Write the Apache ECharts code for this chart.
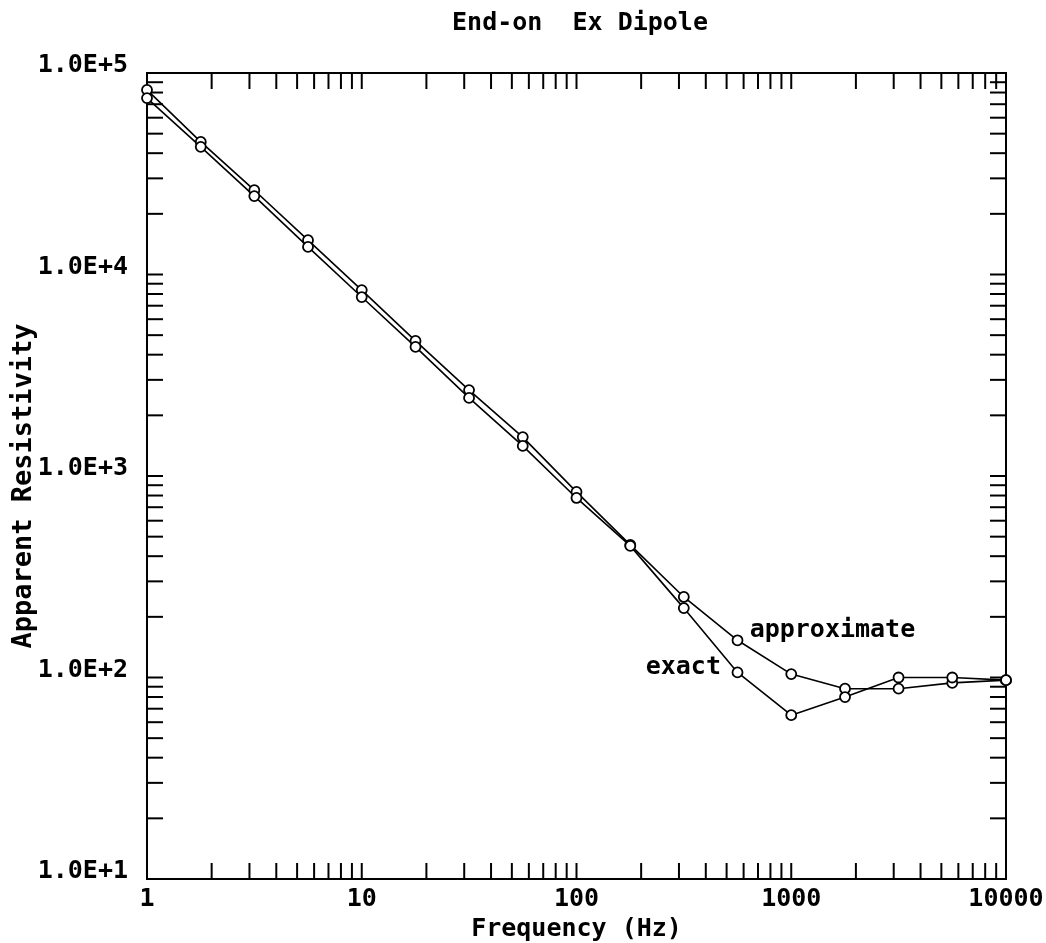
<!DOCTYPE html>
<html>
<head>
<meta charset="utf-8">
<script src="https://cdn.jsdelivr.net/npm/echarts@6/dist/echarts.min.js"></script>
<style>html,body{margin:0;padding:0;background:#fff}#c{width:1046px;height:943px}</style>
</head>
<body>
<div id="c"></div>
<script>
var frequencies = [1, 1.78, 3.16, 5.62, 10, 17.8, 31.6, 56.2, 100, 178, 316, 562, 1000, 1780, 3160, 5620, 10000];
var approximate = [82400, 45500, 26200, 14800, 8370, 4680, 2670, 1560, 834, 455, 251, 153, 104, 88, 88, 94, 97];
var exact = [75100, 43000, 24500, 13700, 7730, 4370, 2440, 1410, 778, 450, 221, 106, 65, 80, 100, 100, 97];
var xTickLabels = ['1', '10', '100', '1000', '10000'];
var yTickLabels = ['1.0E+1', '1.0E+2', '1.0E+3', '1.0E+4', '1.0E+5'];
var xTickValues = [];
[1, 10, 100, 1000].forEach(function (d) { for (var k = 2; k <= 10; k++) xTickValues.push(k * d); });
var yTickValues = [];
[10, 100, 1000, 10000].forEach(function (d) { for (var k = 2; k <= 10; k++) yTickValues.push(k * d); });

var FONT = '"DejaVu Sans Mono", monospace';
var TL = 16;

function pair(xs, ys) { return xs.map(function (x, i) { return [x, ys[i]]; }); }

var chart = echarts.init(document.getElementById('c'), null, { renderer: 'canvas' });
chart.setOption({
  animation: false,
  backgroundColor: '#fff',
  title: {
    text: 'End-on  Ex Dipole', left: 575, top: 6, textAlign: 'center',
    textStyle: { fontFamily: FONT, fontWeight: 'bold', fontSize: 25, color: '#000' }
  },
  grid: { left: 147, top: 73, right: 40, bottom: 64, containLabel: false, outerBoundsMode: 'none', show: true, borderColor: '#000', borderWidth: 2, backgroundColor: 'transparent' },
  xAxis: {
    type: 'log', logBase: 10, min: 1, max: 10000,
    name: 'Frequency (Hz)', nameLocation: 'middle', nameGap: 34,
    nameTextStyle: { fontFamily: FONT, fontWeight: 'bold', fontSize: 25, color: '#000' },
    axisLine: { show: false }, axisTick: { show: false }, splitLine: { show: false },
    axisLabel: {
      fontFamily: FONT, fontWeight: 'bold', fontSize: 25, color: '#000', margin: 8,
      formatter: function (v) { return xTickLabels[Math.round(Math.log10(v))]; }
    }
  },
  yAxis: {
    type: 'log', logBase: 10, min: 10, max: 100000,
    name: 'Apparent Resistivity', nameLocation: 'middle', nameGap: 110, nameRotate: 90,
    nameMoveOverlap: false,
    nameTextStyle: { fontFamily: FONT, fontWeight: 'bold', fontSize: 27, color: '#000', padding: [0, 20, 0, 0] },
    axisLine: { show: false }, axisTick: { show: false }, splitLine: { show: false },
    axisLabel: {
      fontFamily: FONT, fontWeight: 'bold', fontSize: 25, color: '#000', margin: 19,
      verticalAlign: 'bottom', lineHeight: 15,
      formatter: function (v) { return yTickLabels[Math.round(Math.log10(v)) - 1]; }
    }
  },
  series: [
    {
      name: 'approximate', type: 'line', data: pair(frequencies, approximate),
      symbol: 'circle', symbolSize: 10, showAllSymbol: true,
      lineStyle: { color: '#000', width: 1.6 },
      itemStyle: { color: '#fff', borderColor: '#000', borderWidth: 1.8 },
      markPoint: {
        symbol: 'circle', symbolSize: 0,
        data: [{ coord: [640, 172] }],
        label: { show: true, position: 'right', distance: 0, formatter: 'approximate', fontFamily: FONT, fontWeight: 'bold', fontSize: 25, color: '#000' }
      }
    },
    {
      name: 'exact', type: 'line', data: pair(frequencies, exact),
      symbol: 'circle', symbolSize: 10, showAllSymbol: true,
      lineStyle: { color: '#000', width: 1.6 },
      itemStyle: { color: '#fff', borderColor: '#000', borderWidth: 1.8 },
      markPoint: {
        symbol: 'circle', symbolSize: 0,
        data: [{ coord: [210, 112] }],
        label: { show: true, position: 'right', distance: 0, formatter: 'exact', fontFamily: FONT, fontWeight: 'bold', fontSize: 25, color: '#000' }
      }
    },
    {
      type: 'custom', silent: true, z: 1,
      data: xTickValues.map(function (v) { return [v, 10]; }),
      renderItem: function (params, api) {
        var p = api.coord([api.value(0), 10]);
        var cs = params.coordSys;
        return { type: 'group', children: [
          { type: 'line', shape: { x1: p[0], y1: cs.y + cs.height, x2: p[0], y2: cs.y + cs.height - TL }, style: { stroke: '#000', lineWidth: 2 } },
          { type: 'line', shape: { x1: p[0], y1: cs.y, x2: p[0], y2: cs.y + TL }, style: { stroke: '#000', lineWidth: 2 } }
        ] };
      }
    },
    {
      type: 'custom', silent: true, z: 1,
      data: yTickValues.map(function (v) { return [1, v]; }),
      renderItem: function (params, api) {
        var p = api.coord([1, api.value(1)]);
        var cs = params.coordSys;
        return { type: 'group', children: [
          { type: 'line', shape: { x1: cs.x, y1: p[1], x2: cs.x + TL, y2: p[1] }, style: { stroke: '#000', lineWidth: 2 } },
          { type: 'line', shape: { x1: cs.x + cs.width, y1: p[1], x2: cs.x + cs.width - TL, y2: p[1] }, style: { stroke: '#000', lineWidth: 2 } }
        ] };
      }
    }
  ]
});
</script>
</body>
</html>
